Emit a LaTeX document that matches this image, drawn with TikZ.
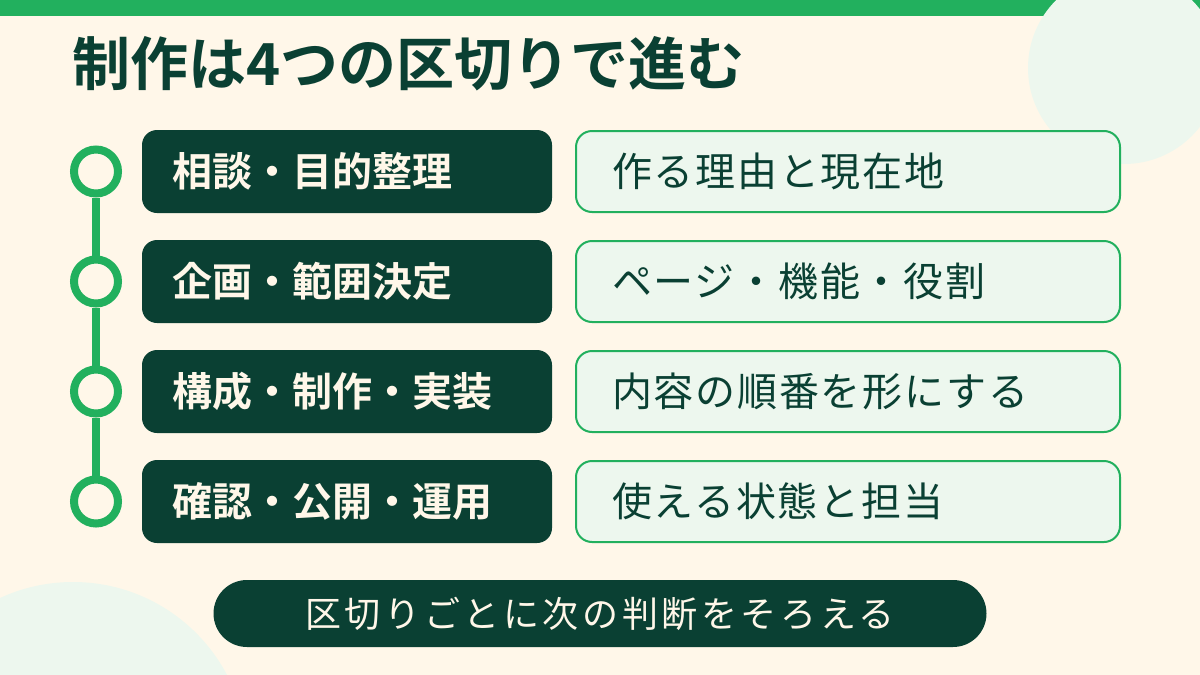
\documentclass[tikz,border=0pt]{standalone}
\usepackage{fontspec}
\setmainfont{Noto Sans CJK JP}[BoldFont={Noto Sans CJK JP Bold}]
\usetikzlibrary{positioning}
\definecolor{bg}{HTML}{FFF7E9}
\definecolor{leaf}{HTML}{22B05E}
\definecolor{pine}{HTML}{0A4033}
\definecolor{mint}{HTML}{EDF7EE}
\tikzset{line/.style={draw=leaf, line width=8pt}}

\begin{document}
\begin{tikzpicture}[x=1pt, y=-1pt, node distance={110pt},
  dot/.style = {draw=leaf, fill=bg, circle, line width=8pt, minimum size=44pt, inner sep=0pt},
  stage/.style = {fill=pine, text=bg, rounded corners=15pt, minimum height=83pt, text width=350pt, inner xsep=30pt, align=left, font=\bfseries\fontsize{40}{44}\selectfont},
  note/.style = {draw=leaf, line width=2pt, fill=mint, text=pine, rounded corners=16pt, minimum height=81pt, text width=472pt, inner xsep=36pt, align=left, font=\fontsize{40}{44}\selectfont\addfontfeatures{LetterSpace=4.5}}]
\begin{scope}
\clip (0,0) rectangle (1200,675);
\fill[bg] (0,0) rectangle (1200,675);
\fill[leaf] (0,0) rectangle (1200,16);
\fill[mint] (1124,68) circle (96);
\fill[mint] (73,756) circle (174);
\end{scope}
\useasboundingbox (0,0) rectangle (1200,675);
\node[anchor=west, text=pine, font=\bfseries\fontsize{58}{62}\selectfont, inner sep=0pt] (title) at (72,64) {制作は4つの区切りで進む};
\node[stage] (s1) at (347,171.5) {相談・目的整理};
\node[stage] (s2) [below of=s1] {企画・範囲決定};
\node[stage] (s3) [below of=s2] {構成・制作・実装};
\node[stage] (s4) [below of=s3] {確認・公開・運用};
\node[note] (n1) at (848,171.5) {作る理由と現在地};
\node[note] (n2) [below of=n1] {ページ・機能・役割};
\node[note] (n3) [below of=n2] {内容の順番を形にする};
\node[note] (n4) [below of=n3] {使える状態と担当};
\node[dot] (c1) at (96,171.5) {};
\node[dot] (c2) [below of=c1] {};
\node[dot] (c3) [below of=c2] {};
\node[dot] (c4) [below of=c3] {};
\draw[line] (c1) -- (c2);
\draw[line] (c2) -- (c3);
\draw[line] (c3) -- (c4);
\node[fill=pine, text=bg, rounded corners=33.5pt, minimum width=773pt, minimum height=67pt, font=\fontsize{36}{40}\selectfont\addfontfeatures{LetterSpace=10}] (sum) at (600,613.5) {区切りごとに次の判断をそろえる};
\end{tikzpicture}
\end{document}
